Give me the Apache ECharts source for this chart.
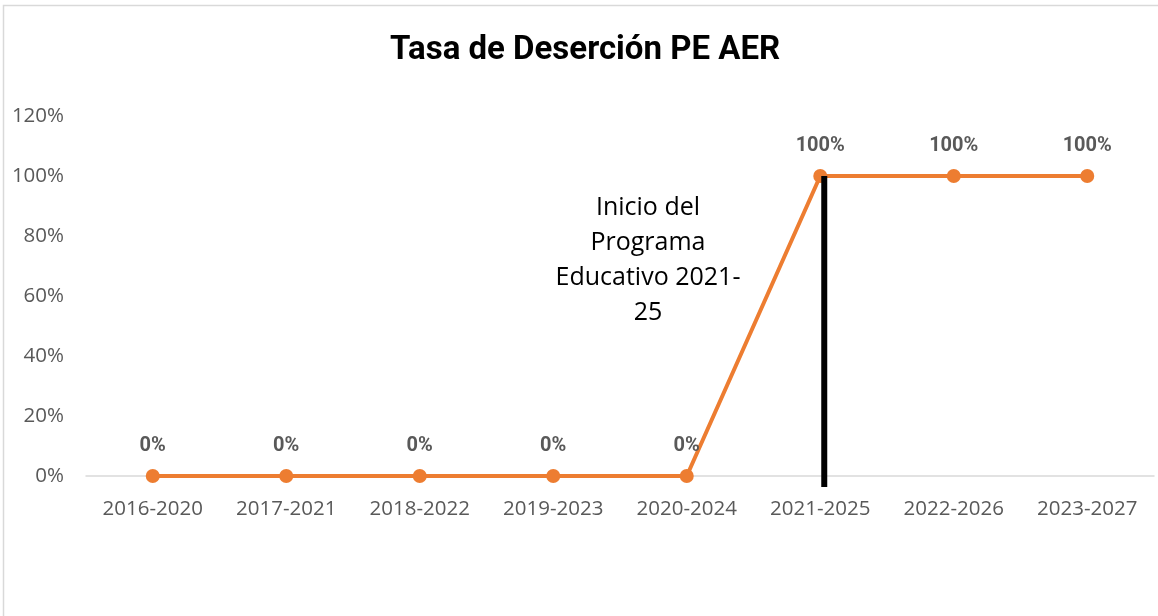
<!DOCTYPE html>
<html>
<head>
<meta charset="utf-8">
<script src="https://cdn.jsdelivr.net/npm/echarts@6/dist/echarts.min.js"></script>
<style>
    html, body { margin: 0; padding: 0; background: #fff; }
    #main { width: 1158px; height: 616px; }
</style>
</head>
<body>
<div id="main"></div>
<script>
    // 分类、数值、刻度
    var categories = ["2016-2020", "2017-2021", "2018-2022", "2019-2023", "2020-2024", "2021-2025", "2022-2026", "2023-2027"];
    var tasa = [0, 0, 0, 0, 0, 100, 100, 100];
    var yTicks = [0, 20, 40, 60, 80, 100, 120];
    var inicioCat = "2021-2025";
    var nota = "Inicio del\nPrograma\nEducativo 2021-\n25";

    var myChart = echarts.init(document.getElementById("main"));
    var option = {
        animation: false,
        title: {
            text: "Tasa de Deserción PE AER",
            left: 385,
            top: 29,
            textStyle: {
                fontFamily: "Roboto",
                fontWeight: "bold",
                fontSize: 33,
                color: "#000"
            }
        },
        grid: {
            left: 86,
            right: 4,
            top: 116,
            bottom: 140
        },
        xAxis: {
            type: "category",
            data: categories,
            axisLine: { lineStyle: { color: "#d9d9d9", width: 1.5 } },
            axisTick: { show: false },
            axisLabel: {
                interval: 0,
                color: "#595959",
                fontFamily: "Open Sans",
                fontSize: 20.5,
                margin: 23
            }
        },
        yAxis: {
            type: "value",
            min: yTicks[0],
            max: yTicks[yTicks.length - 1],
            interval: 20,
            axisLine: { show: false },
            axisTick: { show: false },
            splitLine: { show: false },
            axisLabel: {
                color: "#595959",
                fontFamily: "Open Sans",
                fontSize: 20.5,
                margin: 22,
                formatter: "{value}%"
            }
        },
        series: [{
            name: "Tasa de Deserción",
            type: "line",
            data: tasa,
            symbol: "circle",
            symbolSize: 14,
            lineStyle: { color: "#ED7D31", width: 4 },
            itemStyle: { color: "#ED7D31" },
            label: {
                show: true,
                position: "top",
                distance: 13,
                color: "#595959",
                fontFamily: "Roboto",
                fontWeight: "bold",
                fontSize: 20,
                formatter: "{c}%"
            }
        }]
    };
    myChart.setOption(option);

    // 黑色竖线和说明文字
    var pTop = myChart.convertToPixel({ gridIndex: 0 }, [inicioCat, 100]);
    var pBot = myChart.convertToPixel({ gridIndex: 0 }, [inicioCat, 0]);
    myChart.setOption({
        graphic: [{
            type: "rect",
            shape: { x: 3.5, y: 5.5, width: 1300, height: 800 },
            style: { fill: "none", stroke: "#d9d9d9", lineWidth: 1.5 },
            silent: true,
            z: -1
        }, {
            type: "line",
            shape: { x1: pTop[0] + 4, y1: pTop[1], x2: pBot[0] + 4, y2: pBot[1] + 11 },
            style: { stroke: "#000", lineWidth: 6 },
            z: 10
        }, {
            type: "text",
            x: 648,
            y: 190,
            style: {
                text: nota,
                fill: "#000",
                fontFamily: "Open Sans",
                fontSize: 25,
                lineHeight: 35,
                align: "center"
            }
        }]
    });
</script>
</body>
</html>
